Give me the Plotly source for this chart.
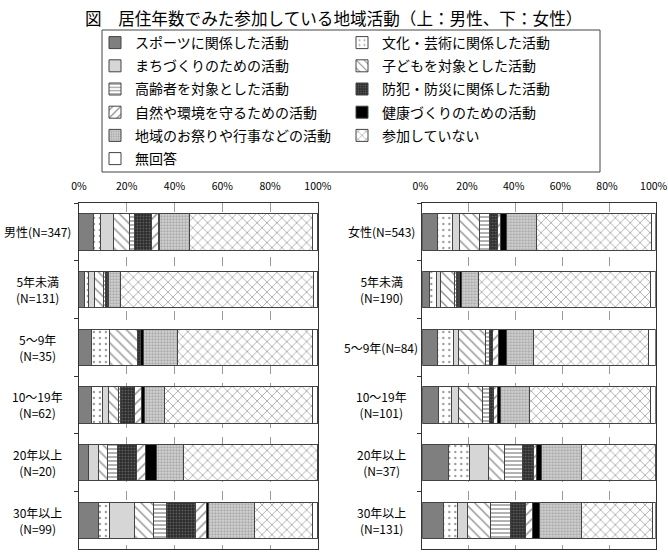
import plotly.graph_objects as go

# ---------------- data ----------------
activities = [
    "スポーツに関係した活動", "文化・芸術に関係した活動", "まちづくりのための活動",
    "子どもを対象とした活動", "高齢者を対象とした活動", "防犯・防災に関係した活動",
    "自然や環境を守るための活動", "健康づくりのための活動", "地域のお祭りや行事などの活動",
    "参加していない", "無回答",
]

male_labels = ["男性(N=347)", "5年未満<br>(N=131)", "5～9年<br>(N=35)",
               "10～19年<br>(N=62)", "20年以上<br>(N=20)", "30年以上<br>(N=99)"]
female_labels = ["女性(N=543)", "5年未満<br>(N=190)", "5～9年(N=84)",
                 "10～19年<br>(N=101)", "20年以上<br>(N=37)", "30年以上<br>(N=131)"]

m_all = [5.9, 3.2, 5.5, 6.7, 2.1, 7.0, 2.7, 0.8, 12.4, 51.6, 2.1]
m_lt5 = [2.4, 1.8, 2.4, 3.9, 0.6, 0.7, 0.7, 0.0, 4.9, 80.6, 2.0]
m_5_9 = [5.2, 7.4, 0.0, 11.8, 0.0, 1.4, 0.0, 1.4, 13.9, 56.8, 2.1]
m_10_19 = [5.2, 4.6, 2.5, 4.4, 0.7, 6.0, 2.7, 1.4, 8.5, 61.6, 2.4]
m_20p = [4.2, 0.0, 3.9, 4.0, 4.2, 7.8, 3.9, 4.4, 11.5, 56.1, 0.0]
m_30p = [8.4, 4.6, 10.3, 7.8, 5.6, 12.1, 4.6, 0.7, 19.5, 24.0, 2.4]

f_all = [6.6, 6.3, 3.0, 8.8, 3.9, 3.7, 1.4, 2.2, 13.1, 49.0, 2.0]
f_lt5 = [2.9, 3.2, 1.5, 6.4, 0.6, 0.8, 0.6, 0.9, 7.1, 73.6, 2.4]
f_5_9 = [6.6, 6.7, 2.1, 11.5, 2.1, 1.0, 2.6, 3.3, 11.7, 49.3, 3.1]
f_10_19 = [6.9, 5.4, 3.1, 10.5, 2.7, 1.8, 1.9, 1.4, 12.4, 51.5, 2.4]
f_20p = [11.1, 9.3, 7.9, 6.8, 7.8, 4.7, 1.4, 1.9, 17.1, 32.0, 0.0]
f_30p = [9.0, 6.1, 4.2, 10.1, 8.6, 6.3, 2.8, 3.3, 17.9, 30.3, 1.4]

male_rows = [m_all, m_lt5, m_5_9, m_10_19, m_20p, m_30p]
female_rows = [f_all, f_lt5, f_5_9, f_10_19, f_20p, f_30p]

tick_vals = [0, 20, 40, 60, 80, 100]
tick_text = ["0%", "20%", "40%", "60%", "80%", "100%"]

# ---------------- styles ----------------
FONT = "Noto Sans CJK JP"
styles = [
    dict(color="#7f7f7f", pattern=dict(shape="")),
    dict(color="#ffffff", pattern=dict(shape=".", fgcolor="#333", size=6, solidity=0.12, fillmode="overlay")),
    dict(color="#d6d6d6", pattern=dict(shape="")),
    dict(color="#ffffff", pattern=dict(shape="\\", fgcolor="#222", size=7, solidity=0.2, fillmode="overlay")),
    dict(color="#ffffff", pattern=dict(shape="-", fgcolor="#222", size=4, solidity=0.35, fillmode="overlay")),
    dict(color="#2a2a2a", pattern=dict(shape=".", fgcolor="#9a9a9a", size=3, solidity=0.3, fillmode="overlay")),
    dict(color="#ffffff", pattern=dict(shape="/", fgcolor="#222", size=7, solidity=0.22, fillmode="overlay")),
    dict(color="#000000", pattern=dict(shape="")),
    dict(color="#d4d4d4", pattern=dict(shape=".", fgcolor="#7a7a7a", size=3, solidity=0.45, fillmode="overlay")),
    dict(color="#ffffff", pattern=dict(shape="x", fgcolor="#555", size=7, solidity=0.24, fillmode="overlay")),
    dict(color="#ffffff", pattern=dict(shape="")),
]
left_col = {0, 2, 4, 6, 8, 10}

fig = go.Figure()
for i, act in enumerate(activities):
    st = styles[i]
    leg = "legend" if i in left_col else "legend2"
    fig.add_trace(go.Bar(
        y=male_labels, x=[row[i] for row in male_rows], orientation="h",
        name=act, legendgroup=act, legend=leg, showlegend=True,
        marker=dict(color=st["color"], pattern=st["pattern"], line=dict(color="#444", width=1)),
        xaxis="x", yaxis="y", hoverinfo="x+name",
    ))
    fig.add_trace(go.Bar(
        y=female_labels, x=[row[i] for row in female_rows], orientation="h",
        name=act, legendgroup=act, showlegend=False,
        marker=dict(color=st["color"], pattern=st["pattern"], line=dict(color="#444", width=1)),
        xaxis="x2", yaxis="y2", hoverinfo="x+name",
    ))

W, H = 668, 557
def px(x):
    return x / W
def py(y):
    return 1 - y / H

ydom = [py(549), py(203)]
xcommon = dict(range=[0, 100], side="top", tickvals=tick_vals, ticktext=tick_text,
               showgrid=True, griddash="dash", gridcolor="#9a9a9a", gridwidth=1,
               showline=True, linecolor="#333", linewidth=1, mirror=True, zeroline=False,
               ticks="", ticklabelstandoff=8, automargin=False, ticklabeloverflow="allow",
               tickfont=dict(family=FONT, size=10.5, color="#000"), fixedrange=True)
ycommon = dict(type="category", autorange="reversed", showticklabels=False,
               ticks="outside", tickson="boundaries", ticklen=4, tickcolor="#333",
               showline=True, linecolor="#333", linewidth=1, mirror=True, automargin=False,
               showgrid=False, domain=ydom, fixedrange=True)

annotations = []
for lab in male_labels:
    annotations.append(dict(xref="paper", yref="y", x=px(37), y=lab, text=lab,
                            showarrow=False, xanchor="center", align="center",
                            font=dict(family=FONT, size=12, color="#000")))
for lab in female_labels:
    annotations.append(dict(xref="paper", yref="y2", x=px(381), y=lab, text=lab,
                            showarrow=False, xanchor="center", align="center",
                            font=dict(family=FONT, size=12, color="#000")))
annotations.append(dict(xref="paper", yref="paper", x=px(333), y=py(18),
                        text="図　居住年数でみた参加している地域活動（上：男性、下：女性）",
                        showarrow=False, xanchor="center", yanchor="middle",
                        font=dict(family=FONT, size=16.6, color="#000")))

legend_common = dict(orientation="v", bgcolor="rgba(0,0,0,0)", borderwidth=0,
                     font=dict(family=FONT, size=14, color="#000"),
                     tracegroupgap=2, xanchor="left", yanchor="top",
                     itemclick=False, itemdoubleclick=False)

fig.update_layout(
    width=W, height=H, margin=dict(l=0, r=0, t=0, b=0, autoexpand=False),
    paper_bgcolor="white", plot_bgcolor="white",
    barmode="stack", bargap=0.37,
    font=dict(family=FONT, color="#000"),
    xaxis=dict(domain=[px(78.9), px(317.9)], anchor="y", **xcommon),
    yaxis=dict(anchor="x", categoryarray=male_labels, **ycommon),
    xaxis2=dict(domain=[px(422.3), px(655.7)], anchor="y2", ticklabelshift=-2, **xcommon),
    yaxis2=dict(anchor="x2", categoryarray=female_labels, **ycommon),
    legend=dict(x=px(95), y=py(27), **legend_common),
    legend2=dict(x=px(342), y=py(27), **legend_common),
    annotations=annotations,
    shapes=[dict(type="rect", xref="paper", yref="paper",
                 x0=px(102), x1=px(600), y0=py(30), y1=py(172),
                 line=dict(color="#444", width=1), fillcolor="rgba(0,0,0,0)")],
    showlegend=True,
)

fig.write_html("out.html")
